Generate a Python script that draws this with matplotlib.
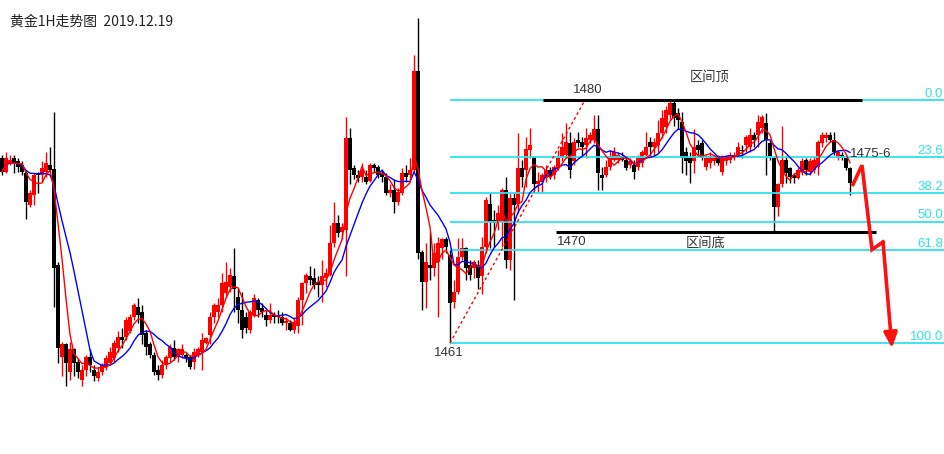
import matplotlib
matplotlib.use('Agg')
import matplotlib.pyplot as plt
import numpy as np
import pandas as pd

# ---------------- data ----------------
opens = [
    1475.5, 1474.4, 1475.1, 1475.5, 1475.2, 1474.9, 1474.3, 1471.8, 1472.6, 1474.2,
    1474.1, 1474.4, 1474.9, 1474.6, 1467.1, 1459.9, 1460.9, 1458.7, 1460.5, 1459.5,
    1458.1, 1458.9, 1459.9, 1458.9, 1458.3, 1458.7, 1459.1, 1459.4, 1459.8, 1460.6,
    1461.5, 1461.5, 1461.9, 1463.0, 1463.8, 1463.4, 1461.8, 1460.9, 1460.1, 1458.9,
    1458.5, 1459.3, 1459.8, 1460.6, 1459.9, 1460.1, 1460.1, 1459.9, 1459.5, 1460.1,
    1460.3, 1461.0, 1461.6, 1463.0, 1463.4, 1464.0, 1464.9, 1465.4, 1466.2, 1464.6,
    1463.6, 1463.0, 1462.0, 1463.2, 1464.4, 1463.7, 1463.2, 1462.8, 1463.2, 1463.2,
    1463.0, 1462.6, 1462.6, 1462.0, 1462.3, 1464.4, 1465.7, 1466.2, 1466.1, 1465.8,
    1465.5, 1466.1, 1466.3, 1468.8, 1470.4, 1469.7, 1469.8, 1477.0, 1474.7, 1474.1,
    1474.0, 1474.0, 1473.7, 1474.9, 1474.8, 1474.3, 1474.0, 1472.7, 1473.0, 1472.0,
    1472.7, 1474.3, 1474.1, 1474.5, 1482.3, 1468.1, 1465.8, 1467.1, 1466.9, 1467.3,
    1468.4, 1469.1, 1467.9, 1464.2, 1465.0, 1467.7, 1468.4, 1467.1, 1466.9, 1467.1,
    1466.2, 1468.5, 1471.9, 1470.6, 1470.5, 1470.5, 1473.0, 1467.5, 1472.3, 1471.9,
    1474.7, 1474.5, 1476.1, 1475.5, 1473.4, 1473.6, 1473.9, 1474.5, 1474.1, 1474.7,
    1475.5, 1475.7, 1476.6, 1475.2, 1476.9, 1476.7, 1476.5, 1476.9, 1476.9, 1477.7,
    1474.1, 1474.1, 1474.8, 1475.3, 1475.3, 1475.6, 1475.3, 1474.9, 1474.9, 1474.8,
    1475.1, 1475.7, 1476.7, 1476.3, 1476.5, 1477.4, 1477.9, 1478.8, 1479.8, 1479.0,
    1478.3, 1475.9, 1475.5, 1475.2, 1476.5, 1476.6, 1474.8, 1475.1, 1475.2, 1475.6,
    1474.4, 1475.2, 1475.3, 1475.5, 1475.7, 1476.1, 1476.5, 1476.3, 1477.3, 1477.3,
    1477.8, 1478.2, 1476.6, 1475.5, 1471.6, 1473.4, 1475.3, 1474.7, 1474.1, 1473.9,
    1474.4, 1475.3, 1474.4, 1474.5, 1474.8, 1476.6, 1477.0, 1477.3, 1476.9, 1475.5,
    1475.7, 1475.5, 1474.7,
]
highs = [
    1475.7, 1475.9, 1475.7, 1475.7, 1475.5, 1475.2, 1474.5, 1473.0, 1474.3, 1474.4,
    1475.2, 1475.9, 1476.3, 1479.1, 1467.3, 1461.1, 1461.0, 1461.1, 1460.6, 1459.8,
    1459.3, 1460.1, 1460.5, 1459.3, 1459.1, 1459.4, 1460.1, 1460.7, 1461.2, 1461.9,
    1462.2, 1463.0, 1463.3, 1464.1, 1464.5, 1464.0, 1462.0, 1461.1, 1460.3, 1459.3,
    1459.7, 1460.1, 1460.9, 1461.2, 1460.6, 1460.9, 1460.2, 1460.1, 1460.6, 1460.7,
    1461.8, 1461.5, 1463.4, 1464.1, 1464.5, 1466.5, 1467.3, 1466.9, 1468.4, 1465.3,
    1465.0, 1463.4, 1463.6, 1464.8, 1464.5, 1464.1, 1463.6, 1464.1, 1463.4, 1463.6,
    1463.4, 1463.0, 1462.8, 1463.0, 1464.6, 1465.8, 1466.5, 1467.0, 1466.9, 1466.2,
    1467.5, 1466.9, 1470.2, 1472.0, 1471.0, 1470.4, 1478.7, 1477.8, 1474.9, 1474.5,
    1475.1, 1474.5, 1475.1, 1475.1, 1474.9, 1474.5, 1474.3, 1473.4, 1473.8, 1473.1,
    1474.7, 1474.9, 1475.5, 1483.5, 1486.4, 1468.3, 1468.8, 1469.7, 1468.8, 1469.3,
    1469.2, 1469.3, 1468.3, 1465.9, 1469.2, 1469.2, 1468.5, 1467.5, 1467.5, 1467.5,
    1469.3, 1472.4, 1472.7, 1471.4, 1471.8, 1473.1, 1474.0, 1472.8, 1472.8, 1477.4,
    1475.3, 1477.1, 1477.8, 1475.6, 1474.4, 1474.3, 1474.9, 1474.8, 1474.9, 1476.1,
    1477.4, 1478.2, 1477.5, 1477.0, 1477.5, 1477.1, 1477.8, 1477.5, 1478.8, 1478.8,
    1474.8, 1475.3, 1476.1, 1476.3, 1475.9, 1475.9, 1475.6, 1475.5, 1475.3, 1475.7,
    1476.1, 1477.5, 1477.1, 1477.0, 1478.4, 1479.2, 1479.5, 1480.0, 1479.9, 1479.4,
    1479.1, 1476.3, 1475.9, 1477.7, 1476.9, 1476.9, 1475.7, 1475.9, 1475.7, 1475.7,
    1475.7, 1475.7, 1475.9, 1475.9, 1476.7, 1476.5, 1477.3, 1477.8, 1477.5, 1478.8,
    1478.8, 1479.0, 1476.9, 1475.6, 1473.5, 1478.0, 1475.6, 1474.8, 1474.3, 1474.8,
    1475.5, 1475.5, 1475.5, 1475.6, 1476.9, 1477.5, 1477.5, 1477.5, 1477.5, 1476.1,
    1475.9, 1475.7, 1474.8,
]
lows = [
    1474.1, 1474.3, 1474.9, 1474.3, 1474.4, 1474.1, 1470.7, 1471.6, 1471.8, 1472.7,
    1473.6, 1474.0, 1474.4, 1463.8, 1459.4, 1458.4, 1457.6, 1458.1, 1458.4, 1458.3,
    1457.6, 1458.4, 1458.7, 1458.0, 1458.0, 1458.5, 1458.9, 1459.3, 1459.5, 1460.3,
    1460.6, 1461.2, 1461.8, 1462.8, 1462.6, 1460.9, 1460.1, 1459.8, 1458.5, 1458.1,
    1458.3, 1459.0, 1459.5, 1459.7, 1459.5, 1459.8, 1459.5, 1459.0, 1459.0, 1459.9,
    1458.9, 1460.9, 1460.9, 1462.6, 1463.0, 1463.4, 1464.6, 1465.0, 1463.4, 1462.6,
    1461.4, 1461.8, 1461.8, 1463.0, 1463.0, 1463.0, 1462.3, 1462.6, 1462.6, 1462.6,
    1462.4, 1462.0, 1461.9, 1461.8, 1461.8, 1462.4, 1464.9, 1465.5, 1465.2, 1464.6,
    1464.2, 1465.4, 1466.2, 1468.5, 1469.3, 1469.1, 1466.2, 1473.4, 1473.8, 1473.6,
    1473.6, 1473.4, 1473.6, 1474.4, 1473.9, 1473.6, 1472.6, 1472.4, 1471.2, 1471.8,
    1472.6, 1473.6, 1473.8, 1474.4, 1467.6, 1463.6, 1463.7, 1465.9, 1466.2, 1463.0,
    1467.6, 1468.0, 1461.0, 1463.7, 1464.8, 1467.5, 1465.9, 1465.9, 1466.1, 1465.2,
    1464.8, 1468.0, 1468.4, 1468.5, 1469.8, 1468.5, 1466.9, 1466.7, 1464.4, 1471.2,
    1473.2, 1473.2, 1475.5, 1473.0, 1472.7, 1472.7, 1473.6, 1473.8, 1473.8, 1474.5,
    1475.2, 1475.5, 1473.9, 1474.9, 1476.3, 1475.7, 1475.5, 1476.6, 1476.6, 1473.0,
    1473.0, 1474.0, 1474.5, 1475.2, 1475.1, 1475.2, 1474.5, 1474.7, 1473.8, 1474.5,
    1474.8, 1475.6, 1475.6, 1475.6, 1475.9, 1477.0, 1477.4, 1478.4, 1478.0, 1477.7,
    1474.3, 1474.1, 1473.5, 1474.3, 1475.7, 1475.3, 1474.5, 1474.7, 1474.9, 1474.9,
    1474.1, 1474.9, 1475.1, 1475.3, 1475.6, 1475.5, 1475.9, 1475.9, 1476.3, 1476.3,
    1477.4, 1474.1, 1475.3, 1469.6, 1470.9, 1473.2, 1473.5, 1473.5, 1473.5, 1473.8,
    1474.1, 1474.1, 1474.1, 1474.3, 1474.1, 1476.3, 1476.7, 1476.7, 1475.7, 1475.3,
    1475.3, 1474.5, 1472.6,
]
closes = [
    1474.4, 1475.5, 1475.3, 1475.1, 1474.8, 1474.4, 1472.0, 1472.7, 1474.1, 1474.1,
    1474.7, 1475.1, 1474.5, 1466.9, 1460.6, 1460.9, 1459.4, 1460.5, 1459.4, 1458.7,
    1458.9, 1459.9, 1459.3, 1458.4, 1458.7, 1459.3, 1459.8, 1460.3, 1461.0, 1461.5,
    1461.2, 1462.8, 1463.0, 1464.0, 1463.2, 1461.6, 1460.7, 1460.1, 1458.7, 1458.5,
    1459.3, 1459.9, 1460.7, 1459.9, 1460.5, 1460.5, 1459.8, 1459.1, 1460.3, 1460.5,
    1461.2, 1461.4, 1463.0, 1464.0, 1464.0, 1465.7, 1465.8, 1466.3, 1465.2, 1463.6,
    1462.0, 1462.2, 1463.4, 1464.5, 1463.6, 1463.4, 1462.8, 1463.2, 1463.0, 1463.0,
    1462.6, 1462.7, 1462.0, 1462.6, 1464.4, 1465.7, 1466.3, 1465.9, 1465.5, 1465.5,
    1466.2, 1466.5, 1468.8, 1470.4, 1469.6, 1470.1, 1477.0, 1474.5, 1474.1, 1473.9,
    1474.5, 1473.6, 1474.9, 1474.7, 1474.1, 1474.0, 1472.7, 1473.0, 1472.0, 1472.8,
    1474.3, 1474.0, 1474.5, 1482.3, 1468.0, 1465.8, 1467.3, 1466.9, 1468.0, 1468.8,
    1469.1, 1468.5, 1464.1, 1465.0, 1467.7, 1468.4, 1466.9, 1466.3, 1467.3, 1466.1,
    1468.5, 1472.2, 1470.5, 1470.4, 1471.2, 1473.0, 1467.5, 1472.3, 1471.8, 1474.7,
    1474.0, 1476.2, 1476.5, 1473.4, 1473.7, 1474.1, 1474.5, 1474.0, 1474.8, 1475.5,
    1476.3, 1476.7, 1474.5, 1476.7, 1476.6, 1476.3, 1477.0, 1477.3, 1477.7, 1474.3,
    1473.9, 1474.8, 1475.6, 1475.9, 1475.7, 1475.3, 1474.7, 1475.2, 1474.4, 1475.5,
    1475.9, 1476.3, 1476.3, 1476.7, 1477.4, 1478.6, 1479.2, 1479.8, 1478.6, 1478.4,
    1475.5, 1475.2, 1475.1, 1476.3, 1476.1, 1475.5, 1475.5, 1475.6, 1475.6, 1475.1,
    1475.5, 1475.6, 1475.7, 1475.7, 1476.3, 1476.0, 1477.1, 1477.3, 1476.9, 1478.3,
    1478.7, 1476.9, 1475.6, 1471.6, 1473.4, 1475.3, 1474.3, 1474.0, 1473.9, 1474.5,
    1475.2, 1474.5, 1475.2, 1475.3, 1476.7, 1477.3, 1477.3, 1476.9, 1475.9, 1475.9,
    1475.5, 1474.7, 1473.5,
]

fib_high = 1480.0
fib_low = 1461.0
fib_ratios = [0.0, 23.6, 38.2, 50.0, 61.8, 100.0]
fib_labels = ["0.0", "23.6", "38.2", "50.0", "61.8", "100.0"]
range_top = 1480.0
range_bottom = 1469.7
forecast_idx = [212.75, 215.0, 217.5, 220.25, 222.5]
forecast_price = [1473.4, 1474.9, 1468.3, 1468.9, 1460.6]
trend_idx = [112, 145.75]
trend_price = [1461.0, 1480.0]

# ---------------- drawing ----------------
o = np.array(opens); h = np.array(highs); l = np.array(lows); c = np.array(closes)
n = len(c)
idx = np.arange(n)

fig = plt.figure(figsize=(9.44, 4.54), dpi=100)
ax = fig.add_axes([0, 0, 1, 1])
ax.set_xlim(-0.5, 235.5)
ax.set_ylim(1452.32, 1487.82)
ax.axis('off')

up = c >= o
col = np.where(up, '#ff0000', '#000000')
ax.vlines(idx, l, h, colors=col, lw=1.0, zorder=2)
body = np.maximum(np.abs(c - o), 0.08)
ax.bar(idx, body, bottom=np.minimum(o, c), width=0.76, color=col,
       linewidth=0, zorder=3)

ma5 = pd.Series(c).rolling(5, min_periods=1).mean()
ma10 = pd.Series(c).rolling(10, min_periods=1).mean()
ax.plot(idx, ma10, color='#0000ff', lw=1.0, zorder=5)
ax.plot(idx, ma5, color='#ff0000', lw=1.0, zorder=5)

cyan = '#2ee2f0'
fib_prices = [fib_high - r / 100.0 * (fib_high - fib_low) for r in fib_ratios]
ax.hlines(fib_prices, 112, 236, colors=cyan, lw=1.3, zorder=4)
for p, lab in zip(fib_prices, fib_labels):
    ax.text(235.2, p + 0.47, lab, color=cyan, fontsize=9.5,
            family='Liberation Sans', ha='right', va='center', zorder=6)

# range lines
ax.hlines(range_top, 135.25, 215, colors='black', lw=2.2, zorder=6)
ax.hlines(range_bottom, 138.5, 218.5, colors='black', lw=2.2, zorder=6)

# dashed trend line
ax.plot(trend_idx, trend_price, color='#ff0000', lw=1.0, ls=(0, (2, 2)), zorder=4)

# forecast path with arrow
ax.plot(forecast_idx[:-1], forecast_price[:-1], color='#ff1010', lw=2.6,
        solid_joinstyle='miter', zorder=7)
ax.annotate('', xy=(forecast_idx[-1], forecast_price[-1]),
            xytext=(forecast_idx[-2], forecast_price[-2]),
            arrowprops=dict(arrowstyle='-|>,head_width=0.4,head_length=0.9',
                            color='#ff1010', lw=2.6, shrinkA=0, shrinkB=0),
            zorder=7)

txt = '#333333'
ax.text(2.0, 1486.1, '黄金1H走势图  2019.12.19', fontsize=10, color='#222222',
        family=['Noto Sans CJK SC', 'DejaVu Sans'], va='center', ha='left')
ax.text(142.75, 1480.75, '1480', fontsize=9.5, color=txt,
        family='Liberation Sans', va='center', ha='left')
ax.text(172.0, 1481.7, '区间顶', fontsize=9.5, color=txt,
        family=['Noto Sans CJK SC', 'DejaVu Sans'], va='center', ha='left')
ax.text(108.0, 1460.2, '1461', fontsize=9.5, color=txt,
        family='Liberation Sans', va='center', ha='left')
ax.text(138.75, 1468.9, '1470', fontsize=9.5, color=txt,
        family='Liberation Sans', va='center', ha='left')
ax.text(171.0, 1468.8, '区间底', fontsize=9.5, color=txt,
        family=['Noto Sans CJK SC', 'DejaVu Sans'], va='center', ha='left')
ax.text(212.0, 1475.8, '1475-6', fontsize=9.5, color=txt,
        family='Liberation Sans', va='center', ha='left', zorder=8)

fig.savefig('out.png', dpi=100, facecolor='white')
